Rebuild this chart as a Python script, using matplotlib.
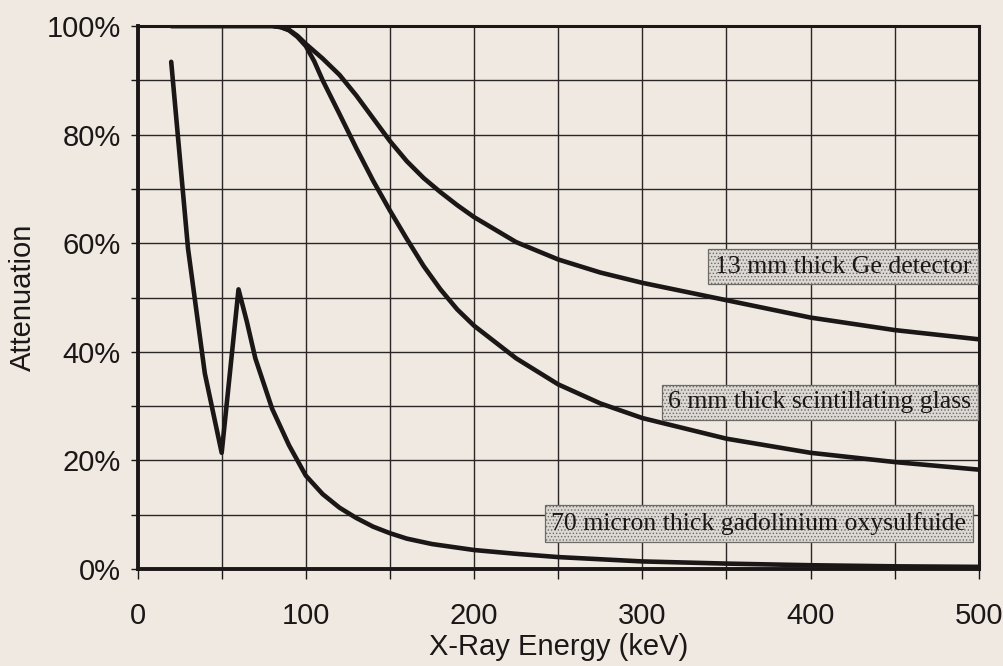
import matplotlib
matplotlib.use("Agg")
import matplotlib.pyplot as plt
from matplotlib.ticker import MultipleLocator, FuncFormatter

# X-ray energy (keV) and attenuation (%) for each absorber
ge_energy = [20, 40, 60, 80, 85, 90, 95, 100, 110, 120, 130, 140, 150, 160,
             170, 180, 190, 200, 225, 250, 275, 300, 350, 400, 450, 500]
ge_atten = [100, 100, 100, 100, 99.8, 99.3, 98.2, 96.7, 94.0, 91.0, 87.2, 83,
            78.8, 75.1, 72.0, 69.4, 67, 64.8, 60.2, 57, 54.6, 52.7, 49.5,
            46.3, 44, 42.3]

glass_energy = [20, 40, 60, 80, 85, 90, 95, 100, 105, 110, 120, 130, 140,
                150, 160, 170, 180, 190, 200, 225, 250, 275, 300, 350, 400,
                450, 500]
glass_atten = [100, 100, 100, 100, 99.8, 99.2, 98, 96.3, 93.5, 90, 83.8, 77.5,
               71.5, 66, 60.8, 55.8, 51.5, 47.8, 44.8, 38.8, 34, 30.5, 27.8,
               24, 21.4, 19.7, 18.3]

gos_energy = [20, 30, 35, 40, 50, 60, 65, 70, 80, 90, 100, 110, 120, 130,
              140, 150, 160, 175, 200, 225, 250, 300, 350, 400, 450, 500]
gos_atten = [93.4, 59, 47.5, 36, 21.4, 51.5, 45.5, 38.8, 29.5, 22.8, 17.2,
             13.8, 11.3, 9.4, 7.8, 6.6, 5.6, 4.6, 3.5, 2.8, 2.2, 1.4, 1.0,
             0.7, 0.5, 0.4]

series_labels = ["13 mm thick Ge detector",
                 "6 mm thick scintillating glass",
                 "70 micron thick gadolinium oxysulfuide"]
label_positions = [(495.5, 55.7), (495.5, 30.7), (492.5, 8.4)]

bg = "#efe9e2"
ink = "#1c1717"

plt.rcParams["font.family"] = ["Liberation Sans", "DejaVu Sans"]
plt.rcParams["hatch.linewidth"] = 0.6

fig = plt.figure(figsize=(10.04, 6.66), dpi=100, facecolor=bg)
ax = fig.add_axes([0.137, 0.1456, 0.838, 0.8154], facecolor=bg)

for e, a in [(ge_energy, ge_atten), (glass_energy, glass_atten),
             (gos_energy, gos_atten)]:
    ax.plot(e, a, color=ink, lw=3.3, solid_capstyle="round",
            solid_joinstyle="round", zorder=3)

ax.set_xlim(0, 500)
ax.set_ylim(0, 100)
ax.xaxis.set_major_locator(MultipleLocator(100))
ax.xaxis.set_minor_locator(MultipleLocator(50))
ax.yaxis.set_major_locator(MultipleLocator(20))
ax.yaxis.set_minor_locator(MultipleLocator(10))
ax.yaxis.set_major_formatter(FuncFormatter(lambda v, p: f"{v:.0f}%"))

ax.grid(True, which="both", color="#2b2626", lw=1.0, zorder=1)
ax.set_axisbelow(True)

ax.tick_params(axis="both", which="both", direction="out", colors=ink,
               width=1.0)
ax.tick_params(axis="x", which="both", length=7, pad=17, labelsize=21)
ax.tick_params(axis="y", which="both", length=5, pad=7, labelsize=21)

for side, w in [("left", 2.8), ("bottom", 2.8), ("top", 2.2), ("right", 2.2)]:
    ax.spines[side].set_linewidth(w)
    ax.spines[side].set_color(ink)

ax.set_xlabel("X-Ray Energy (keV)", fontsize=21, color=ink, labelpad=2)
ax.set_ylabel("Attenuation", fontsize=21, color=ink, labelpad=7)

for text, (x, y) in zip(series_labels, label_positions):
    ax.text(x, y, text, ha="right", va="center", fontsize=18.5,
            family=["Liberation Serif", "DejaVu Serif"], color=ink, zorder=5,
            bbox=dict(boxstyle="square,pad=0.26", facecolor="#dcd8d3",
                      edgecolor="#6e6a66", hatch=".....", lw=0.9))

fig.savefig("out.png", dpi=100, facecolor=bg)
